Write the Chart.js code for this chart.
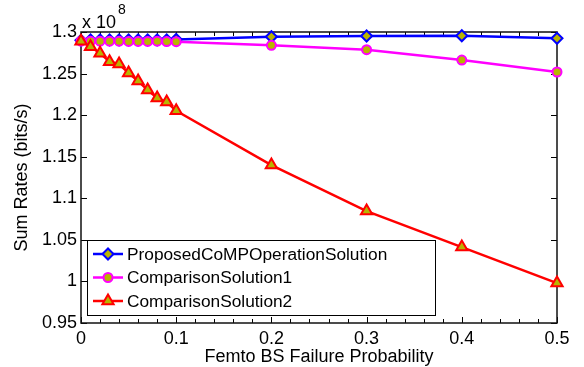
<!DOCTYPE html>
<html>
<head>
<meta charset="utf-8">
<script src="https://cdn.jsdelivr.net/npm/chart.js@4/dist/chart.umd.min.js"></script>
<style>
html,body{margin:0;padding:0;background:#fff;}
#wrap{width:584px;height:367px;position:relative;}
</style>
</head>
<body>
<div id="wrap"><canvas id="c" width="584" height="367"></canvas></div>
<script>
// Values in units of 10^8 bits/s
const failureProb = [0, 0.01, 0.02, 0.03, 0.04, 0.05, 0.06, 0.07, 0.08, 0.09, 0.1, 0.2, 0.3, 0.4, 0.5];
const proposed = [1.2900, 1.2905, 1.2905, 1.2905, 1.2905, 1.2905, 1.2905, 1.2905, 1.2905, 1.2905, 1.2910, 1.2943, 1.2952, 1.2955, 1.2924];
const comparison1 = [1.2890, 1.2890, 1.2890, 1.2889, 1.2889, 1.2886, 1.2886, 1.2886, 1.2889, 1.2885, 1.2883, 1.2840, 1.2787, 1.2663, 1.2519];
const comparison2 = [1.2890, 1.2823, 1.2744, 1.2643, 1.2615, 1.2507, 1.2410, 1.2302, 1.2206, 1.2158, 1.2053, 1.1400, 1.0846, 1.0413, 0.9980];
const seriesNames = ['ProposedCoMPOperationSolution', 'ComparisonSolution1', 'ComparisonSolution2'];
const xTickLabels = ['0', '0.1', '0.2', '0.3', '0.4', '0.5'];
const yTickLabels = ['0.95', '1', '1.05', '1.1', '1.15', '1.2', '1.25', '1.3'];
const xTitle = 'Femto BS Failure Probability';
const yTitle = 'Sum Rates (bits/s)';
const exponentLabel = 'x 10';
const exponentPower = '8';

const FONT = '"Liberation Sans", Arial, Helvetica, sans-serif';
const FACE = 'rgb(185,180,0)';
const styles = [
  {color: '#0000ff', pointStyle: 'rectRot', radius: 5.5},
  {color: '#ff00ff', pointStyle: 'circle', radius: 4.5},
  {color: '#ff0000', pointStyle: 'triangle', radius: 6.5}
];
const seriesData = [proposed, comparison1, comparison2];

const datasets = seriesData.map((vals, i) => ({
  label: seriesNames[i],
  data: failureProb.map((x, j) => ({x: x, y: vals[j]})),
  borderColor: styles[i].color,
  backgroundColor: FACE,
  pointBackgroundColor: FACE,
  pointBorderColor: styles[i].color,
  pointBorderWidth: 2,
  pointRadius: styles[i].radius,
  pointHoverRadius: styles[i].radius,
  pointStyle: styles[i].pointStyle,
  borderWidth: 2.5,
  tension: 0,
  clip: false,
  order: 2 - i
}));

const framePlugin = {
  id: 'frame',
  beforeDatasetsDraw(chart) {
    const {ctx, chartArea: a, scales} = chart;
    ctx.save();
    ctx.strokeStyle = '#000';
    ctx.lineWidth = 1;
    const xs = scales.x, ys = scales.y;
    for (let k = 0; k <= 25; k++) {
      const v = k * 0.02;
      const px = Math.round(xs.getPixelForValue(v)) + 0.5;
      const major = (k % 5 === 0);
      const len = major ? 6 : 4;
      ctx.beginPath();
      ctx.moveTo(px, a.bottom); ctx.lineTo(px, a.bottom - len);
      ctx.moveTo(px, a.top); ctx.lineTo(px, a.top + len);
      ctx.stroke();
    }
    for (let k = 0; k <= 7; k++) {
      const v = 0.95 + k * 0.05;
      const py = Math.round(ys.getPixelForValue(v)) + 0.5;
      ctx.beginPath();
      ctx.moveTo(a.left, py); ctx.lineTo(a.left + 6, py);
      ctx.moveTo(a.right, py); ctx.lineTo(a.right - 6, py);
      ctx.stroke();
    }
    ctx.lineWidth = 1.5;
    ctx.strokeStyle = '#111';
    ctx.strokeRect(Math.round(a.left), Math.round(a.top), Math.round(a.right - a.left), Math.round(a.bottom - a.top));
    ctx.fillStyle = '#000';
    ctx.textBaseline = 'alphabetic';
    ctx.textAlign = 'left';
    ctx.font = '18px ' + FONT;
    ctx.fillText(exponentLabel, a.left + 1, a.top - 4);
    const w = ctx.measureText(exponentLabel).width;
    ctx.font = '14px ' + FONT;
    ctx.fillText(exponentPower, a.left + 3 + w, a.top - 18);
    ctx.restore();
  },
  afterDatasetsDraw(chart) {
    const {ctx} = chart;
    const bx = 87.5, by = 240.5, bw = 348, bh = 75;
    ctx.save();
    ctx.fillStyle = '#fff';
    ctx.fillRect(bx, by, bw, bh);
    ctx.strokeStyle = '#000';
    ctx.lineWidth = 1;
    ctx.strokeRect(bx, by, bw, bh);
    const rows = [254, 277.5, 301];
    rows.forEach((ry, i) => {
      ctx.strokeStyle = styles[i].color;
      ctx.lineWidth = 2.5;
      ctx.beginPath();
      ctx.moveTo(93, ry); ctx.lineTo(123, ry);
      ctx.stroke();
      ctx.fillStyle = FACE;
      ctx.lineWidth = 2;
      Chart.helpers.drawPoint(ctx, {pointStyle: styles[i].pointStyle, radius: styles[i].radius, rotation: 0, borderWidth: 2}, 108, ry);
      ctx.fillStyle = '#000';
      ctx.font = '17.3px ' + FONT;
      ctx.textAlign = 'left';
      ctx.textBaseline = 'middle';
      ctx.fillText(seriesNames[i], 127, ry + 1);
    });
    ctx.restore();
  }
};

new Chart(document.getElementById('c'), {
  type: 'line',
  data: {datasets},
  options: {
    responsive: false,
    animation: false,
    events: [],
    layout: {padding: {top: 32, right: 27, left: 0, bottom: 0}},
    plugins: {legend: {display: false}, tooltip: {enabled: false}},
    scales: {
      x: {
        type: 'linear', min: 0, max: 0.5,
        ticks: {
          stepSize: 0.1, color: '#000', padding: 5,
          font: {family: FONT, size: 18},
          callback: (v) => { const i = Math.round(v * 10); return (Math.abs(v * 10 - i) < 1e-6) ? xTickLabels[i] : ''; }
        },
        grid: {display: false, drawTicks: false},
        border: {display: false},
        title: {display: true, text: xTitle, color: '#000', font: {family: FONT, size: 18}, padding: {top: 0, bottom: -1}},
        afterFit: (s) => { s.height = 44; }
      },
      y: {
        type: 'linear', min: 0.95, max: 1.3,
        ticks: {
          stepSize: 0.05, color: '#000', padding: 4,
          font: {family: FONT, size: 18},
          callback: (v) => { const i = Math.round((v - 0.95) / 0.05); return yTickLabels[i]; }
        },
        grid: {display: false, drawTicks: false},
        border: {display: false},
        title: {display: true, text: yTitle, color: '#000', font: {family: FONT, size: 18}, padding: {top: 11, bottom: 0}},
        afterFit: (s) => { s.width = 81; }
      }
    }
  },
  plugins: [framePlugin]
});
</script>
</body>
</html>
